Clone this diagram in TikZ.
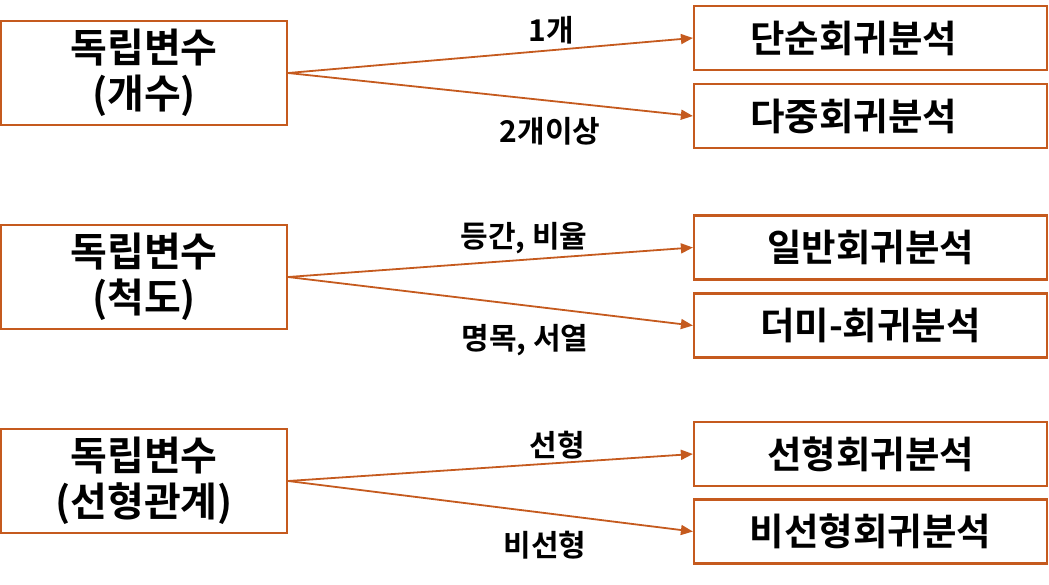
\documentclass[tikz,border=0pt]{standalone}
\usepackage{fontspec}
\setmainfont{Noto Sans CJK KR}[BoldFont={Noto Sans CJK KR Bold}]
\usetikzlibrary{arrows.meta}
\definecolor{acc}{HTML}{C55A1E}
\begin{document}
\begin{tikzpicture}[x=1pt,y=-1pt,
  lbox/.style={draw=acc,line width=2.2pt,minimum width=286pt,minimum height=104pt,inner sep=0pt,align=center,font=\fontsize{40}{46}\selectfont\bfseries},
  rbox/.style={draw=acc,line width=2.2pt,minimum width=353pt,minimum height=64pt,inner sep=0pt,font=\fontsize{37.5}{40}\selectfont\bfseries},
  lab/.style={inner sep=0pt,font=\fontsize{30}{34}\selectfont\bfseries},
  conn/.style={draw=acc,line width=1.8pt,-{Triangle[length=12pt,width=10pt]}}]
\useasboundingbox (0,0) rectangle (1049,584);
\node[lbox] (l1) at (144,73) {독립변수\\(개수)};
\node[lbox] (l2) at (144,277) {독립변수\\(척도)};
\node[lbox] (l3) at (144,481) {독립변수\\(선형관계)};
\node[rbox] (r1) at (870.5,38) {단순회귀분석\rule{34pt}{0pt}};
\node[rbox] (r2) at (870.5,116) {다중회귀분석\rule{34pt}{0pt}};
\node[rbox] (r3) at (870.5,247.5) {일반회귀분석};
\node[rbox] (r4) at (870.5,325.5) {더미-회귀분석};
\node[rbox] (r5) at (870.5,454) {선형회귀분석};
\node[rbox] (r6) at (870.5,531.5) {비선형회귀분석};
\node[lab] (t1) at (551,30) {1개};
\node[lab] (t2) at (550,131) {2개이상};
\node[lab] (t3) at (524,238) {등간, 비율};
\node[lab] (t4) at (525,340) {명목, 서열};
\node[lab] (t5) at (557,445) {선형};
\node[lab] (t6) at (545,545) {비선형};
\draw[conn] (l1.east) -- (r1.west);
\draw[conn] (l1.east) -- (r2.west);
\draw[conn] (l2.east) -- (r3.west);
\draw[conn] (l2.east) -- (r4.west);
\draw[conn] (l3.east) -- (r5.west);
\draw[conn] (l3.east) -- (r6.west);
\end{tikzpicture}
\end{document}
